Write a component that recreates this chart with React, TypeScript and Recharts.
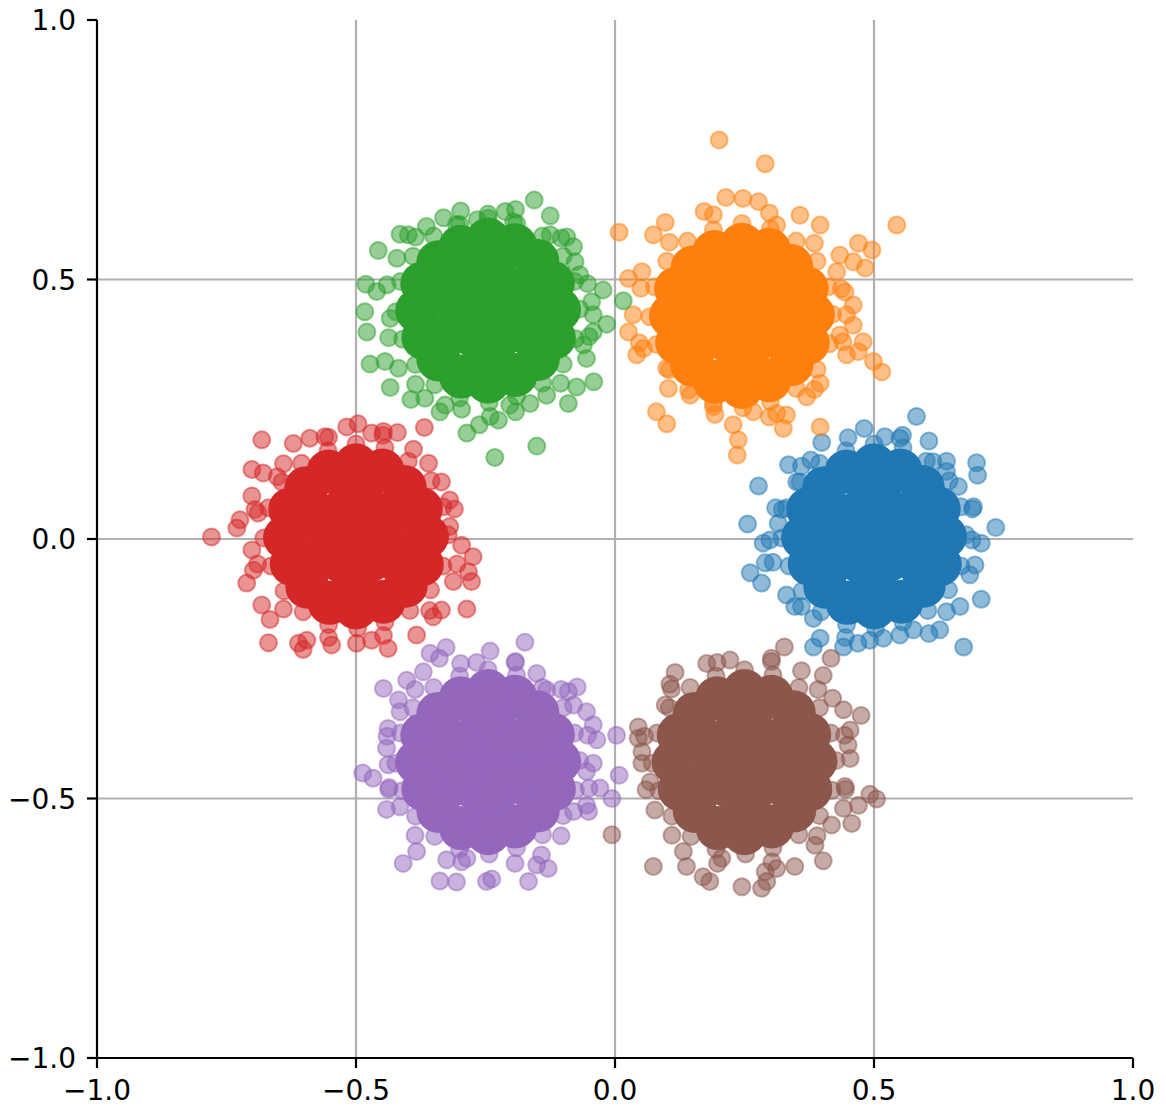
import React from 'react';
import {
  ScatterChart,
  Scatter,
  XAxis,
  YAxis,
  ReferenceLine,
} from 'recharts';

type Pt = [number, number];

const xTicks = [-1, -0.5, 0, 0.5, 1];
const yTicks = [-1, -0.5, 0, 0.5, 1];
const gridLines = [-0.5, 0, 0.5];

// solid centre of each blob, then the loose points around it
const blueCore: Pt[] = [
  [0.5, 0.005], [0.445, 0.007], [0.555, 0.003], [0.472, 0.053], [0.528, 0.055], [0.418, 0.051],
  [0.582, 0.053], [0.472, -0.043], [0.528, -0.041], [0.418, -0.045], [0.582, -0.043], [0.5, 0.1], [0.5, -0.09],
  [0.637, 0.005], [0.625, 0.058], [0.594, 0.1], [0.551, 0.132], [0.5, 0.142], [0.447, 0.13],
  [0.404, 0.098], [0.373, 0.057], [0.363, 0.003], [0.376, -0.048], [0.406, -0.092], [0.449, -0.123],
  [0.5, -0.132], [0.553, -0.121], [0.596, -0.09], [0.627, -0.049],
];
const blueSpread: Pt[] = [
  [0.678, 0.008], [0.668, 0.062], [0.645, 0.112], [0.601, 0.15], [0.556, 0.176], [0.5, 0.183],
  [0.446, 0.17], [0.395, 0.146], [0.357, 0.11], [0.331, 0.06], [0.322, 0.002], [0.336, -0.052],
  [0.361, -0.1], [0.398, -0.14], [0.447, -0.165], [0.503, -0.172], [0.556, -0.16], [0.604, -0.138],
  [0.644, -0.098], [0.668, -0.052],
  [0.69, 0.058], [0.64, 0.15], [0.555, 0.2], [0.45, 0.195], [0.36, 0.14], [0.31, 0.06],
  [0.305, -0.045], [0.36, -0.13], [0.445, -0.19], [0.55, -0.185], [0.64, -0.14], [0.695, -0.05],
  [0.582, 0.236], [0.606, 0.189], [0.698, 0.147], [0.7, 0.123], [0.735, 0.022], [0.707, -0.008],
  [0.692, 0.062], [0.685, -0.069], [0.707, -0.116], [0.666, -0.13], [0.673, -0.208], [0.627, -0.175],
  [0.606, -0.182], [0.576, -0.175], [0.518, -0.191], [0.492, -0.195], [0.469, -0.201], [0.441, -0.208],
  [0.396, -0.191], [0.383, -0.208], [0.383, -0.153], [0.347, -0.13], [0.331, -0.108], [0.283, -0.085],
  [0.261, -0.065], [0.29, -0.046], [0.286, -0.008], [0.299, -0.002], [0.256, 0.029], [0.315, 0.03],
  [0.323, 0.057], [0.277, 0.102], [0.351, 0.11], [0.335, 0.143], [0.378, 0.152], [0.399, 0.186],
  [0.481, 0.213], [0.521, 0.197], [0.55, 0.194], [0.614, 0.149], [0.64, 0.13], [0.663, 0.101],
  [0.689, -0.002],
];

const orangeCore: Pt[] = [
  [0.245, 0.43], [0.19, 0.432], [0.3, 0.428], [0.217, 0.478], [0.273, 0.48], [0.163, 0.476],
  [0.327, 0.478], [0.217, 0.382], [0.273, 0.384], [0.163, 0.38], [0.327, 0.382], [0.245, 0.525], [0.245, 0.335],
  [0.382, 0.432], [0.37, 0.483], [0.34, 0.526], [0.297, 0.557], [0.245, 0.567], [0.192, 0.553],
  [0.15, 0.523], [0.118, 0.482], [0.108, 0.43], [0.12, 0.378], [0.149, 0.336], [0.193, 0.303],
  [0.245, 0.293], [0.298, 0.306], [0.341, 0.337], [0.372, 0.378],
];
const orangeSpread: Pt[] = [
  [0.42, 0.433], [0.412, 0.486], [0.39, 0.535], [0.35, 0.574], [0.3, 0.598], [0.245, 0.608],
  [0.19, 0.596], [0.14, 0.574], [0.1, 0.535], [0.076, 0.486], [0.067, 0.428], [0.08, 0.375],
  [0.105, 0.326], [0.142, 0.287], [0.19, 0.262], [0.247, 0.253], [0.3, 0.265], [0.35, 0.29],
  [0.39, 0.327], [0.414, 0.376],
  [0.437, 0.482], [0.385, 0.57], [0.298, 0.628], [0.19, 0.625], [0.105, 0.572], [0.05, 0.483],
  [0.047, 0.378], [0.103, 0.29], [0.193, 0.24], [0.298, 0.235], [0.385, 0.288], [0.44, 0.38],
  [0.201, 0.769], [0.29, 0.723], [0.544, 0.605], [0.008, 0.591], [0.214, 0.658], [0.247, 0.656],
  [0.277, 0.65], [0.172, 0.631], [0.097, 0.61], [0.074, 0.586], [0.357, 0.624], [0.396, 0.605],
  [0.312, 0.605], [0.47, 0.57], [0.496, 0.557], [0.434, 0.547], [0.46, 0.534], [0.483, 0.522],
  [0.428, 0.515], [0.026, 0.502], [0.052, 0.515], [0.035, 0.432], [0.026, 0.399], [0.042, 0.355],
  [0.055, 0.367], [0.444, 0.476], [0.46, 0.451], [0.447, 0.432], [0.46, 0.412], [0.479, 0.38],
  [0.47, 0.361], [0.499, 0.342], [0.515, 0.322], [0.434, 0.393], [0.447, 0.355], [0.396, 0.3],
  [0.37, 0.274], [0.396, 0.216], [0.08, 0.245], [0.1, 0.222], [0.238, 0.191], [0.236, 0.162],
  [0.228, 0.22], [0.325, 0.213], [0.331, 0.239], [0.312, 0.242], [0.19, 0.255], [0.267, 0.245],
  [0.145, 0.277], [0.1, 0.329],
];

const greenCore: Pt[] = [
  [-0.245, 0.44], [-0.3, 0.442], [-0.19, 0.438], [-0.273, 0.488], [-0.217, 0.49], [-0.327, 0.486],
  [-0.163, 0.488], [-0.273, 0.392], [-0.217, 0.394], [-0.327, 0.39], [-0.163, 0.392], [-0.245, 0.535], [-0.245, 0.345],
  [-0.108, 0.442], [-0.12, 0.493], [-0.15, 0.536], [-0.193, 0.566], [-0.245, 0.577], [-0.298, 0.563],
  [-0.341, 0.533], [-0.372, 0.492], [-0.382, 0.44], [-0.37, 0.388], [-0.341, 0.346], [-0.297, 0.313],
  [-0.245, 0.303], [-0.192, 0.316], [-0.149, 0.347], [-0.118, 0.388],
];
const greenSpread: Pt[] = [
  [-0.068, 0.443], [-0.078, 0.496], [-0.1, 0.545], [-0.14, 0.584], [-0.19, 0.608], [-0.245, 0.618],
  [-0.3, 0.606], [-0.35, 0.584], [-0.39, 0.545], [-0.414, 0.496], [-0.423, 0.438], [-0.41, 0.385],
  [-0.385, 0.336], [-0.348, 0.297], [-0.3, 0.272], [-0.243, 0.263], [-0.19, 0.275], [-0.14, 0.3],
  [-0.1, 0.337], [-0.076, 0.386],
  [-0.053, 0.492], [-0.104, 0.58], [-0.192, 0.635], [-0.298, 0.632], [-0.385, 0.582], [-0.44, 0.49],
  [-0.437, 0.388], [-0.385, 0.298], [-0.296, 0.25], [-0.192, 0.245], [-0.105, 0.3], [-0.05, 0.39],
  [-0.364, 0.602], [-0.331, 0.619], [-0.306, 0.606], [-0.266, 0.615], [-0.245, 0.626], [-0.212, 0.631],
  [-0.196, 0.611], [-0.125, 0.586], [-0.093, 0.582], [-0.08, 0.563], [-0.077, 0.534], [-0.068, 0.509],
  [-0.045, 0.457], [-0.042, 0.432], [-0.042, 0.399], [-0.061, 0.374], [-0.074, 0.293], [-0.09, 0.261],
  [-0.132, 0.277], [-0.164, 0.261], [-0.203, 0.258], [-0.241, 0.236], [-0.225, 0.229], [-0.262, 0.22],
  [-0.328, 0.258], [-0.338, 0.245], [-0.367, 0.271], [-0.394, 0.269], [-0.418, 0.329], [-0.444, 0.342],
  [-0.434, 0.425], [-0.46, 0.477], [-0.421, 0.541], [-0.415, 0.587], [-0.399, 0.586],
  [-0.156, 0.653], [-0.125, 0.623], [-0.457, 0.556], [-0.481, 0.491], [-0.483, 0.438], [-0.479, 0.399],
  [-0.473, 0.337], [-0.434, 0.292], [-0.286, 0.204], [-0.232, 0.157], [-0.151, 0.179], [-0.041, 0.303],
  [-0.055, 0.348], [-0.023, 0.48], [0.016, 0.459], [-0.016, 0.414],
];

const redCore: Pt[] = [
  [-0.5, 0.005], [-0.555, 0.007], [-0.445, 0.003], [-0.528, 0.053], [-0.472, 0.055], [-0.582, 0.051],
  [-0.418, 0.053], [-0.528, -0.043], [-0.472, -0.041], [-0.582, -0.045], [-0.418, -0.043], [-0.5, 0.1], [-0.5, -0.09],
  [-0.363, 0.005], [-0.375, 0.058], [-0.406, 0.1], [-0.449, 0.132], [-0.5, 0.142], [-0.553, 0.13],
  [-0.596, 0.098], [-0.627, 0.057], [-0.637, 0.003], [-0.624, -0.048], [-0.594, -0.092], [-0.551, -0.123],
  [-0.5, -0.132], [-0.447, -0.121], [-0.404, -0.09], [-0.373, -0.049],
];
const redSpread: Pt[] = [
  [-0.322, 0.008], [-0.332, 0.062], [-0.355, 0.112], [-0.399, 0.15], [-0.444, 0.176], [-0.5, 0.183],
  [-0.554, 0.17], [-0.605, 0.146], [-0.643, 0.11], [-0.669, 0.06], [-0.678, 0.002], [-0.664, -0.052],
  [-0.639, -0.1], [-0.602, -0.14], [-0.553, -0.165], [-0.497, -0.172], [-0.444, -0.16], [-0.396, -0.138],
  [-0.356, -0.098], [-0.332, -0.052],
  [-0.31, 0.058], [-0.36, 0.146], [-0.448, 0.2], [-0.553, 0.196], [-0.64, 0.145], [-0.695, 0.057],
  [-0.69, -0.048], [-0.64, -0.135], [-0.553, -0.19], [-0.447, -0.186], [-0.358, -0.138], [-0.305, -0.048],
  [-0.682, 0.191], [-0.621, 0.184], [-0.589, 0.194], [-0.56, 0.197], [-0.518, 0.216], [-0.496, 0.222],
  [-0.47, 0.204], [-0.447, 0.207], [-0.42, 0.205], [-0.368, 0.215], [-0.389, 0.173], [-0.701, 0.134],
  [-0.679, 0.127], [-0.652, 0.12], [-0.701, 0.083], [-0.689, 0.05], [-0.724, 0.037], [-0.73, 0.021],
  [-0.779, 0.004], [-0.701, -0.021], [-0.711, -0.085], [-0.698, -0.06], [-0.682, -0.127], [-0.666, -0.155],
  [-0.669, -0.2], [-0.611, -0.201], [-0.602, -0.213], [-0.547, -0.204], [-0.499, -0.201], [-0.47, -0.195],
  [-0.438, -0.211], [-0.383, -0.185], [-0.351, -0.15], [-0.335, -0.137], [-0.286, -0.135], [-0.312, -0.082],
  [-0.277, -0.082], [-0.283, -0.063], [-0.274, -0.034], [-0.296, -0.012], [-0.319, 0.024], [-0.319, 0.075],
  [-0.335, 0.11], [-0.595, -0.195],
];

const purpleCore: Pt[] = [
  [-0.245, -0.43], [-0.3, -0.428], [-0.19, -0.432], [-0.273, -0.382], [-0.217, -0.38], [-0.327, -0.384],
  [-0.163, -0.382], [-0.273, -0.478], [-0.217, -0.476], [-0.327, -0.48], [-0.163, -0.478], [-0.245, -0.335], [-0.245, -0.525],
  [-0.108, -0.428], [-0.12, -0.377], [-0.15, -0.334], [-0.193, -0.304], [-0.245, -0.293], [-0.298, -0.307],
  [-0.341, -0.337], [-0.372, -0.378], [-0.382, -0.43], [-0.37, -0.482], [-0.341, -0.524], [-0.297, -0.557],
  [-0.245, -0.567], [-0.192, -0.554], [-0.149, -0.523], [-0.118, -0.482],
];
const purpleSpread: Pt[] = [
  [-0.068, -0.427], [-0.078, -0.374], [-0.1, -0.325], [-0.14, -0.286], [-0.19, -0.262], [-0.245, -0.252],
  [-0.3, -0.264], [-0.35, -0.286], [-0.39, -0.325], [-0.414, -0.374], [-0.423, -0.432], [-0.41, -0.485],
  [-0.385, -0.534], [-0.348, -0.573], [-0.3, -0.598], [-0.243, -0.607], [-0.19, -0.595], [-0.14, -0.57],
  [-0.1, -0.533], [-0.076, -0.484],
  [-0.053, -0.378], [-0.104, -0.29], [-0.192, -0.236], [-0.298, -0.24], [-0.386, -0.29], [-0.44, -0.38],
  [-0.437, -0.482], [-0.386, -0.571], [-0.296, -0.622], [-0.193, -0.625], [-0.104, -0.572], [-0.05, -0.48],
  [-0.174, -0.199], [-0.241, -0.216], [-0.326, -0.209], [-0.357, -0.22], [-0.339, -0.23], [-0.267, -0.238],
  [-0.193, -0.238], [-0.151, -0.259], [-0.132, -0.291], [-0.09, -0.294], [-0.073, -0.285], [-0.08, -0.32],
  [-0.055, -0.333], [-0.447, -0.288], [-0.402, -0.272], [-0.37, -0.256], [-0.418, -0.31], [-0.415, -0.333],
  [-0.438, -0.365], [-0.441, -0.403], [-0.487, -0.451], [-0.467, -0.461], [-0.436, -0.479], [-0.438, -0.435],
  [-0.441, -0.521], [-0.415, -0.516], [-0.409, -0.625], [-0.383, -0.602], [-0.338, -0.659], [-0.306, -0.661],
  [-0.248, -0.66], [-0.238, -0.655], [-0.167, -0.66], [-0.129, -0.635], [-0.151, -0.628], [-0.142, -0.609],
  [-0.286, -0.615], [-0.325, -0.618], [0.003, -0.378], [-0.035, -0.387], [-0.042, -0.432], [0.008, -0.455],
  [-0.029, -0.48], [-0.006, -0.5], [-0.055, -0.513], [-0.051, -0.525], [-0.08, -0.525], [-0.055, -0.448],
  [-0.042, -0.358],
];

const brownCore: Pt[] = [
  [0.25, -0.43], [0.195, -0.428], [0.305, -0.432], [0.223, -0.382], [0.277, -0.38], [0.168, -0.384],
  [0.332, -0.382], [0.223, -0.478], [0.277, -0.476], [0.168, -0.48], [0.332, -0.478], [0.25, -0.335], [0.25, -0.525],
  [0.387, -0.428], [0.375, -0.377], [0.345, -0.334], [0.302, -0.304], [0.25, -0.293], [0.197, -0.307],
  [0.154, -0.337], [0.123, -0.378], [0.113, -0.43], [0.125, -0.482], [0.154, -0.524], [0.198, -0.557],
  [0.25, -0.567], [0.303, -0.554], [0.346, -0.523], [0.377, -0.482],
];
const brownSpread: Pt[] = [
  [0.427, -0.427], [0.417, -0.374], [0.395, -0.325], [0.355, -0.286], [0.305, -0.262], [0.25, -0.252],
  [0.195, -0.264], [0.145, -0.286], [0.105, -0.325], [0.081, -0.374], [0.072, -0.432], [0.085, -0.485],
  [0.11, -0.534], [0.147, -0.573], [0.195, -0.598], [0.252, -0.607], [0.305, -0.595], [0.355, -0.57],
  [0.395, -0.533], [0.419, -0.484],
  [0.443, -0.378], [0.392, -0.29], [0.302, -0.236], [0.197, -0.238], [0.109, -0.289], [0.057, -0.38],
  [0.06, -0.483], [0.11, -0.571], [0.198, -0.625], [0.303, -0.622], [0.39, -0.572], [0.445, -0.482],
  [0.177, -0.24], [0.222, -0.233], [0.302, -0.23], [0.327, -0.208], [0.36, -0.254], [0.402, -0.263],
  [0.417, -0.23], [0.116, -0.257], [0.106, -0.28], [0.097, -0.32], [0.045, -0.362], [0.045, -0.384],
  [0.052, -0.41], [0.052, -0.432], [0.068, -0.468], [0.077, -0.522], [0.074, -0.631], [0.132, -0.602],
  [0.138, -0.631], [0.17, -0.651], [0.183, -0.66], [0.206, -0.615], [0.245, -0.67], [0.283, -0.673],
  [0.293, -0.66], [0.29, -0.641], [0.312, -0.635], [0.347, -0.631], [0.402, -0.62], [0.386, -0.59],
  [0.418, -0.551], [0.457, -0.548], [0.441, -0.519], [0.47, -0.513], [0.492, -0.492], [0.505, -0.501],
  [0.444, -0.477], [0.454, -0.423], [0.45, -0.397], [0.454, -0.368], [0.475, -0.34], [0.441, -0.329],
  [0.42, -0.307], [-0.006, -0.57],
];

const clusters = [
  { name: 'c0', color: '#1f77b4', core: blueCore, spread: blueSpread },
  { name: 'c1', color: '#ff7f0e', core: orangeCore, spread: orangeSpread },
  { name: 'c2', color: '#2ca02c', core: greenCore, spread: greenSpread },
  { name: 'c3', color: '#d62728', core: redCore, spread: redSpread },
  { name: 'c4', color: '#9467bd', core: purpleCore, spread: purpleSpread },
  { name: 'c5', color: '#8c564b', core: brownCore, spread: brownSpread },
];

const toRows = (pts: Pt[]) => pts.map(([x, y]) => ({ x, y }));

const fmt = (v: number) => (v < 0 ? '\u2212' : '') + Math.abs(v).toFixed(1);

const FONT = 'DejaVu Sans';

const XTick = (props: any) => (
  <text x={props.x} y={props.y} dy="0.71em" textAnchor="middle" fontFamily={FONT} fontSize={28} fill="#000">
    {fmt(props.payload.value)}
  </text>
);

const YTick = (props: any) => (
  <text x={props.x} y={props.y} dy="0.36em" textAnchor="end" fontFamily={FONT} fontSize={28} fill="#000">
    {fmt(props.payload.value)}
  </text>
);

export default function App() {
  return (
    <div style={{ position: 'absolute', left: 0, top: 0, background: '#fff' }}>
      <ScatterChart width={1166} height={1115} margin={{ top: 20, right: 33, bottom: 0, left: 0 }}>
        <XAxis
          type="number"
          dataKey="x"
          domain={[-1, 1]}
          ticks={xTicks}
          tick={XTick}
          tickSize={10}
          tickMargin={12}
          height={57}
          stroke="#000"
          strokeWidth={2.2}
          allowDataOverflow
        />
        <XAxis
          xAxisId="top"
          orientation="top"
          type="number"
          domain={[-1, 1]}
          tick={false}
          tickLine={false}
          height={0}
          stroke="#000"
          strokeWidth={2.2}
        />
        <YAxis
          type="number"
          dataKey="y"
          domain={[-1, 1]}
          ticks={yTicks}
          tick={YTick}
          tickSize={10}
          tickMargin={11}
          width={97}
          stroke="#000"
          strokeWidth={2.2}
          allowDataOverflow
        />
        <YAxis
          yAxisId="right"
          orientation="right"
          type="number"
          domain={[-1, 1]}
          tick={false}
          tickLine={false}
          width={0}
          stroke="#000"
          strokeWidth={2.2}
        />
        {clusters.flatMap((c) => [
          <Scatter
            key={c.name + '-core'}
            name={c.name}
            data={toRows(c.core)}
            isAnimationActive={false}
            shape={(p: any) => <circle cx={p.cx} cy={p.cy} r={22} fill={c.color} />}
          />,
          <Scatter
            key={c.name + '-spread'}
            name={c.name}
            data={toRows(c.spread)}
            isAnimationActive={false}
            shape={(p: any) => (
              <circle
                cx={p.cx}
                cy={p.cy}
                r={8.5}
                fill={c.color}
                fillOpacity={0.5}
                stroke={c.color}
                strokeOpacity={0.5}
                strokeWidth={2}
              />
            )}
          />,
        ])}
        {gridLines.map((v) => (
          <ReferenceLine key={'gx' + v} x={v} stroke="#b0b0b0" strokeWidth={2.2} />
        ))}
        {gridLines.map((v) => (
          <ReferenceLine key={'gy' + v} y={v} stroke="#b0b0b0" strokeWidth={2.2} />
        ))}
      </ScatterChart>
    </div>
  );
}
